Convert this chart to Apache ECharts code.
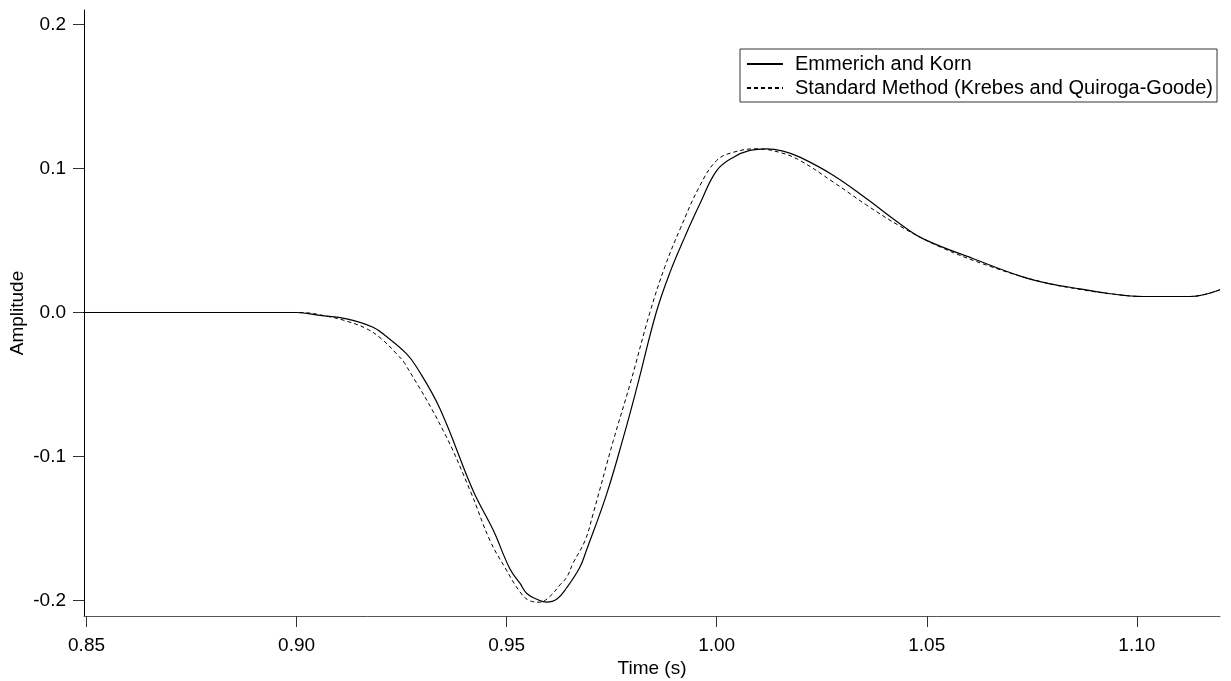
<!DOCTYPE html>
<html>
<head>
<meta charset="utf-8">
<script src="https://cdn.jsdelivr.net/npm/echarts@6/dist/echarts.min.js"></script>
<style>
  html, body { margin: 0; padding: 0; background: #fff; }
  #chart { width: 1231px; height: 681px; }
</style>
</head>
<body>
<div id="chart"></div>
<script>
// Seismic pulse amplitude versus time for two attenuation methods
const emkTime = [0.849, 0.87, 0.89, 0.9, 0.9056, 0.9119, 0.9182, 0.9214, 0.9262, 0.9286, 0.9341, 0.9420, 0.9468, 0.9508, 0.9532, 0.9548, 0.9572, 0.9595, 0.9619, 0.9643, 0.9674, 0.9690, 0.9738, 0.9778, 0.9810, 0.9856, 0.9889, 0.9925, 0.9960, 1.0000, 1.0040, 1.0079, 1.0119, 1.0158, 1.0198, 1.0278, 1.0357, 1.0436, 1.0492, 1.0611, 1.0730, 1.0794, 1.0865, 1.0937, 1.1015, 1.1127, 1.1198];
const emkAmp = [0, 0, 0, 0, -0.002, -0.0044, -0.0102, -0.0167, -0.0287, -0.038, -0.0666, -0.1235, -0.151, -0.178, -0.188, -0.195, -0.199, -0.201, -0.199, -0.191, -0.177, -0.165, -0.126, -0.0865, -0.052, 0.0, 0.028, 0.053, 0.0754, 0.0985, 0.1078, 0.1125, 0.1136, 0.112, 0.1078, 0.0951, 0.0789, 0.0616, 0.0511, 0.0373, 0.0245, 0.0199, 0.0164, 0.013, 0.0111, 0.0111, 0.0158];

const stdTime = [0.849, 0.87, 0.89, 0.9008, 0.9079, 0.9119, 0.9167, 0.9202, 0.9238, 0.9258, 0.9349, 0.9413, 0.9460, 0.9496, 0.9532, 0.9555, 0.9579, 0.9603, 0.9627, 0.9643, 0.9658, 0.9687, 0.9706, 0.9754, 0.9794, 0.9841, 0.9877, 0.9913, 0.9960, 1.0000, 1.0040, 1.0095, 1.0151, 1.0198, 1.0278, 1.0357, 1.0436, 1.0532, 1.0651, 1.0770, 1.0865, 1.0937, 1.1015, 1.1127, 1.1198];
const stdAmp = [0, 0, 0, 0, -0.003, -0.006, -0.0113, -0.0183, -0.0287, -0.0356, -0.0819, -0.1235, -0.158, -0.177, -0.194, -0.200, -0.201, -0.197, -0.189, -0.1837, -0.174, -0.158, -0.1395, -0.0888, -0.0495, 0.0, 0.032, 0.058, 0.088, 0.1055, 0.1112, 0.1136, 0.111, 0.1055, 0.0904, 0.0745, 0.060, 0.0455, 0.032, 0.0215, 0.016, 0.013, 0.0111, 0.0111, 0.0158];

const xTicks = [0.85, 0.90, 0.95, 1.00, 1.05, 1.10];
const yTicks = [-0.2, -0.1, 0.0, 0.1, 0.2];

const seriesNames = ['Emmerich and Korn', 'Standard Method (Krebes and Quiroga-Goode)'];

const pairs = (xs, ys) => xs.map((x, i) => [x, ys[i]]);

const FONT = 'Liberation Sans, Arial, sans-serif';

const chart = echarts.init(document.getElementById('chart'), null, { renderer: 'canvas' });
chart.setOption({
  animation: false,
  backgroundColor: '#ffffff',
  grid: { left: 84, right: 11, top: 10, bottom: 65, containLabel: false, outerBoundsMode: 'none' },
  legend: {
    orient: 'vertical',
    left: 740,
    top: 49,
    padding: [5, 4, 4, 6],
    itemGap: 4,
    itemWidth: 36,
    itemHeight: 20,
    borderColor: '#333',
    borderWidth: 1,
    align: 'left',
    itemStyle: { opacity: 0 },
    textStyle: { fontFamily: FONT, fontSize: 20, color: '#000', lineHeight: 20, padding: [0, 0, 0, 7] },
    data: seriesNames
  },
  xAxis: {
    type: 'value',
    min: 0.8494,
    max: 1.1198,
    name: 'Time (s)',
    nameLocation: 'middle',
    nameGap: 43,
    nameMoveOverlap: false,
    nameTextStyle: { fontFamily: FONT, fontSize: 19, color: '#000' },
    axisLine: { show: true, onZero: false, lineStyle: { color: '#555', width: 1 } },
    axisTick: { show: true, length: 11, customValues: xTicks, lineStyle: { color: '#333' } },
    axisLabel: {
      customValues: xTicks,
      margin: 20,
      fontFamily: FONT, fontSize: 19, color: '#000',
      formatter: v => v.toFixed(2)
    },
    splitLine: { show: false }
  },
  yAxis: {
    type: 'value',
    min: -0.2106,
    max: 0.2099,
    name: 'Amplitude',
    nameLocation: 'middle',
    nameGap: 57,
    nameRotate: 90,
    nameMoveOverlap: false,
    nameTextStyle: { fontFamily: FONT, fontSize: 19, color: '#000' },
    axisLine: { show: true, onZero: false, lineStyle: { color: '#000', width: 1 } },
    axisTick: { show: true, length: 11, customValues: yTicks, lineStyle: { color: '#333' } },
    axisLabel: {
      customValues: yTicks,
      margin: 18,
      fontFamily: FONT, fontSize: 19, color: '#000',
      formatter: v => v.toFixed(1)
    },
    splitLine: { show: false }
  },
  series: [
    {
      name: seriesNames[0],
      type: 'line',
      data: pairs(emkTime, emkAmp),
      smooth: 0.4,
      showSymbol: false,
      symbol: 'none',
      lineStyle: { color: '#000', width: 1.2, type: 'solid' },
      itemStyle: { color: '#000' }
    },
    {
      name: seriesNames[1],
      type: 'line',
      data: pairs(stdTime, stdAmp),
      smooth: 0.4,
      showSymbol: false,
      symbol: 'none',
      lineStyle: { color: '#000', width: 1, type: [4, 3] },
      itemStyle: { color: '#000' }
    }
  ]
});
</script>
</body>
</html>
